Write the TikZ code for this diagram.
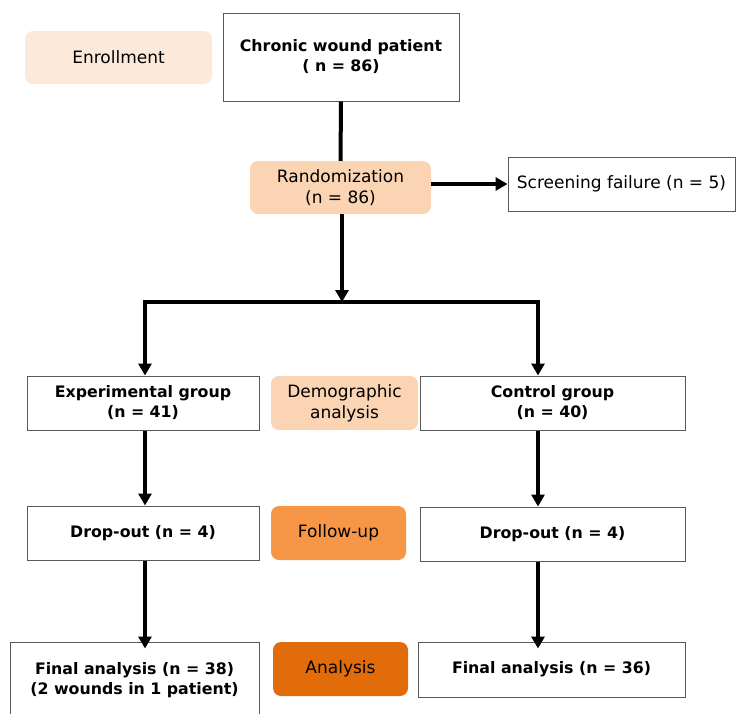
\documentclass[tikz,border=0pt]{standalone}
\usepackage{fontspec}
\setmainfont{DejaVu Sans}
\usetikzlibrary{arrows.meta, positioning}
\definecolor{peachlight}{HTML}{FDE9D9}
\definecolor{peach}{HTML}{FBD4B4}
\definecolor{orangemid}{HTML}{F79646}
\definecolor{orangedark}{HTML}{E36C0A}
\tikzset{whitebox/.style={draw=black!65, line width=1pt, fill=white, align=center, inner sep=2pt, font=\fontsize{15.8}{20}\selectfont\bfseries}}
\tikzset{stagebox/.style={rounded corners=8pt, align=center, inner sep=2pt, font=\fontsize{17}{21}\selectfont}}
\tikzset{flow/.style={line width=4pt, -{Triangle[length=12pt,width=13pt]}}}

\begin{document}
\begin{tikzpicture}[x=1pt, y=-1pt]
                        \useasboundingbox (0,0) rectangle (736,713);

                        \node[stagebox, fill=peachlight, minimum width=187pt, minimum height=53pt] (enroll) at (118.5, 57.5) {Enrollment};
                        \node[whitebox, minimum width=236pt, minimum height=88pt] (chronic) at (341, 57) {Chronic wound patient\\( n = 86)};
                        \node[stagebox, fill=peach, minimum width=181pt, minimum height=53pt] (random) at (340.5, 187.5) {Randomization\\(n = 86)};
                        \node[whitebox, font=\fontsize{17}{21}\selectfont, minimum width=227pt, minimum height=54pt] (screen) at (621.5, 184) {Screening failure (n = 5)};

                        \node[whitebox, minimum width=232pt, minimum height=54pt] (expgrp) at (143, 403) {Experimental group\\(n = 41)};
                        \node[stagebox, fill=peach, minimum width=147pt, minimum height=54pt] (demo) at (344.5, 403) {Demographic\\analysis};
                        \node[whitebox, minimum width=265pt, minimum height=54pt] (ctrlgrp) at (552.5, 403) {Control group\\(n = 40)};

                        \node[whitebox, minimum width=232pt, minimum height=54pt] (dropl) at (143, 533) {Drop-out (n = 4)};
                        \node[stagebox, fill=orangemid, minimum width=135pt, minimum height=54pt] (follow) at (338.5, 533) {Follow-up};
                        \node[whitebox, minimum width=265pt, minimum height=54pt] (dropr) at (552.5, 534) {Drop-out (n = 4)};

                        \node[whitebox, minimum width=249pt, minimum height=76pt] (finall) at (134.5, 680) {Final analysis (n = 38)\\(2 wounds in 1 patient)};
                        \node[stagebox, fill=orangedark, minimum width=135pt, minimum height=54pt] (analysis) at (340.5, 669) {Analysis};
                        \node[whitebox, minimum width=267pt, minimum height=55pt] (finalr) at (551.5, 669.5) {Final analysis (n = 36)};

                        \coordinate (splitl) at (145, 302);
                        \coordinate (splitm) at (342, 302);
                        \coordinate (splitr) at (538, 302);

                        \draw[line width=4pt] (chronic.south) -- (random.north);
                        \draw[flow] (random.east |- screen.west) -- (screen.west);
                        \draw[flow] (random.south -| splitm) -- (splitm);
                        \draw[flow, {Triangle[length=12pt,width=13pt]}-{Triangle[length=12pt,width=13pt]}]
                        (expgrp.north -| splitl) |- (splitm) -| (ctrlgrp.north -| splitr);
                        \draw[flow] (expgrp.south -| splitl) -- (dropl.north -| splitl);
                        \draw[flow] (ctrlgrp.south -| splitr) -- (dropr.north -| splitr);
                        \draw[flow] (dropl.south -| splitl) -- ([yshift=-7pt]finall.north -| splitl);
                        \draw[flow] (dropr.south -| splitr) -- ([yshift=-7pt]finalr.north -| splitr);
                    \end{tikzpicture}
\end{document}
